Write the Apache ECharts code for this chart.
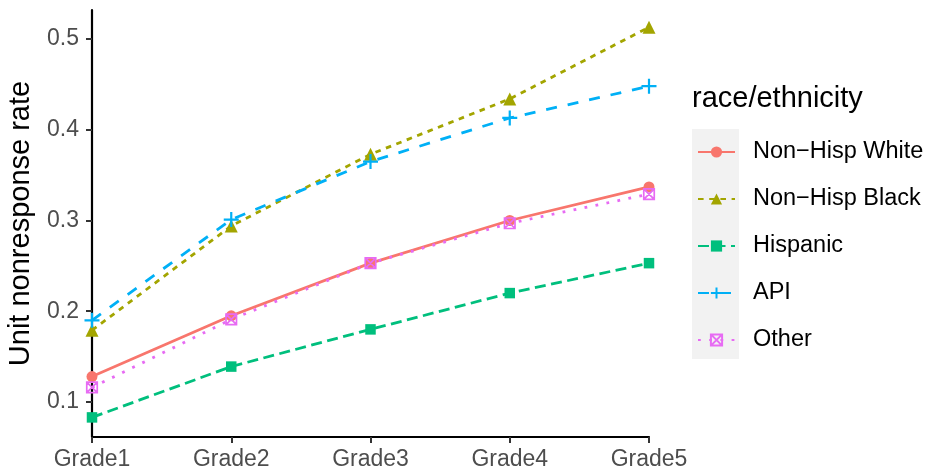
<!DOCTYPE html>
<html>
<head>
<meta charset="utf-8">
<script src="https://cdn.jsdelivr.net/npm/echarts@6/dist/echarts.min.js"></script>
<style>html,body{margin:0;padding:0;background:#fff}#c{width:930px;height:474px}</style>
</head>
<body>
<div id="c"></div>
<script>
const grades = ['Grade1', 'Grade2', 'Grade3', 'Grade4', 'Grade5'];
const seriesNames = ['Non\u2212Hisp White', 'Non\u2212Hisp Black', 'Hispanic', 'API', 'Other'];
const nonHispWhite = [0.128, 0.195, 0.253, 0.300, 0.337];
const nonHispBlack = [0.179, 0.294, 0.373, 0.434, 0.513];
const hispanic = [0.083, 0.139, 0.180, 0.220, 0.253];
const api = [0.190, 0.301, 0.365, 0.413, 0.448];
const other = [0.116, 0.191, 0.253, 0.297, 0.329];
const yTicks = [0.1, 0.2, 0.3, 0.4, 0.5];

const values = [nonHispWhite, nonHispBlack, hispanic, api, other];
const colors = ['#F8766D', '#A3A500', '#00BF7D', '#00B0F6', '#E76BF3'];
const FONT = '"Liberation Sans", Arial, Helvetica, sans-serif';
const LW = 2.8;
const dashes = ['solid', [5.6, 5.6], [11, 5.5], [11, 11], [2.8, 8.4]];
const symbols = [
  {symbol: 'circle', size: 11, stroke: false},
  {symbol: 'triangle', size: 13, stroke: false},
  {symbol: 'rect', size: 10.5, stroke: false},
  {symbol: 'path://M5,0V10M0,5H10', size: 15, stroke: true, bw: 2.2},
  {symbol: 'path://M0,0H10V10H0Z M0,0L10,10 M10,0L0,10', size: 10.5, stroke: true, bw: 1.7}
];

const series = seriesNames.map((name, i) => {
  const s = symbols[i];
  return {
    name: name,
    type: 'line',
    data: values[i],
    symbol: s.symbol,
    symbolSize: s.size,
    showSymbol: true,
    lineStyle: {color: colors[i], width: LW, type: dashes[i], cap: 'butt'},
    itemStyle: s.stroke
      ? {color: 'rgba(0,0,0,0)', borderColor: colors[i], borderWidth: s.bw}
      : {color: colors[i], borderWidth: 0},
    emphasis: {disabled: true},
    animation: false
  };
});

const chart = echarts.init(document.getElementById('c'), null, {renderer: 'canvas'});
chart.setOption({
  backgroundColor: '#fff',
  animation: false,
  textStyle: {fontFamily: FONT},
  grid: {left: 92, right: 281, top: 10, bottom: 37, containLabel: false, outerBoundsMode: 'none'},
  title: {
    text: 'race/ethnicity',
    left: 692, top: 84,
    padding: 0,
    textStyle: {fontFamily: FONT, fontSize: 29, fontWeight: 'normal', color: '#000'}
  },
  graphic: [{
    type: 'rect', z: -10, silent: true,
    shape: {x: 692, y: 129, width: 47, height: 230},
    style: {fill: '#F2F2F2'}
  }],
  legend: {
    orient: 'vertical',
    left: 697, top: 140,
    padding: 0,
    itemWidth: 37, itemHeight: 14, itemGap: 23,
    data: seriesNames,
    textStyle: {fontFamily: FONT, fontSize: 23.5, color: '#000', lineHeight: 23, padding: [0, 0, 0, 13]},
    selectedMode: false
  },
  xAxis: {
    type: 'category',
    data: grades,
    boundaryGap: false,
    axisLine: {show: true, lineStyle: {color: '#000', width: 2.2}},
    axisTick: {show: true, length: 6, lineStyle: {color: '#333', width: 2}},
    axisLabel: {fontFamily: FONT, fontSize: 23, color: '#4D4D4D', margin: 11, showMinLabel: true, showMaxLabel: true, interval: 0},
    splitLine: {show: false}
  },
  yAxis: {
    type: 'value',
    min: 0.0614, max: 0.532,
    name: 'Unit nonresponse rate',
    nameLocation: 'middle',
    nameRotate: 90,
    nameGap: 57,
    nameTextStyle: {fontFamily: FONT, fontSize: 29, color: '#000'},
    axisLine: {show: true, lineStyle: {color: '#000', width: 2.2}},
    axisTick: {show: true, length: 6, lineStyle: {color: '#333', width: 2}, customValues: yTicks},
    axisLabel: {fontFamily: FONT, fontSize: 23, color: '#4D4D4D', margin: 13, customValues: yTicks,
      formatter: v => Number(v).toFixed(1)},
    splitLine: {show: false}
  },
  series: series
});
</script>
</body>
</html>
